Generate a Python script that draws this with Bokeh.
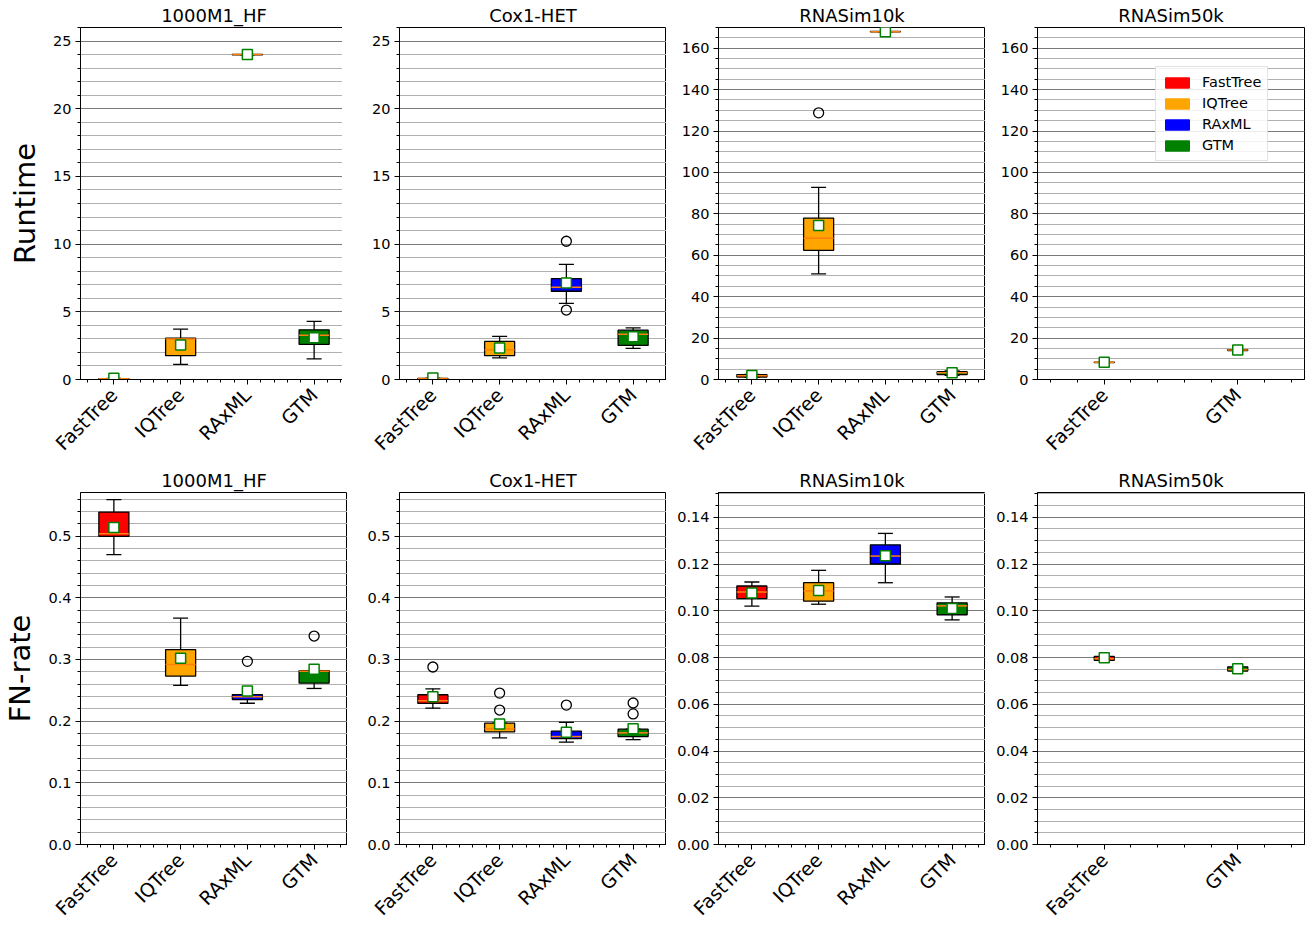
import math
import numpy as np
from bokeh.plotting import figure
from bokeh.layouts import gridplot
from bokeh.models import (ColumnDataSource, FixedTicker, SingleIntervalTicker,
                          PrintfTickFormatter, Legend, LegendItem, Range1d)
from bokeh.embed import file_html
from bokeh.resources import INLINE

# ---------------- data ----------------
methods4 = ["FastTree", "IQTree", "RAxML", "GTM"]
methods2 = ["FastTree", "GTM"]
method_colors = {"FastTree": "#ff0000", "IQTree": "#ffa500", "RAxML": "#0000ff", "GTM": "#008000"}
datasets = ["1000M1_HF", "Cox1-HET", "RNASim10k", "RNASim50k"]

# Runtime: whisker low, q1, median, q3, whisker high, mean, outliers
rt_1000m1_lo = [0.02, 1.12, 24.0, 1.52]
rt_1000m1_q1 = [0.03, 1.76, 23.98, 2.59]
rt_1000m1_med = [0.05, 3.00, 24.0, 3.27]
rt_1000m1_q3 = [0.07, 3.05, 24.02, 3.67]
rt_1000m1_hi = [0.09, 3.72, 24.0, 4.30]
rt_1000m1_mean = [0.10, 2.54, 24.0, 3.08]
rt_1000m1_out_i = []
rt_1000m1_out_v = []

rt_cox1_lo = [0.04, 1.59, 5.62, 2.30]
rt_cox1_q1 = [0.05, 1.76, 6.52, 2.52]
rt_cox1_med = [0.07, 2.20, 6.82, 3.35]
rt_cox1_q3 = [0.09, 2.81, 7.45, 3.64]
rt_cox1_hi = [0.10, 3.18, 8.50, 3.81]
rt_cox1_mean = [0.12, 2.32, 7.13, 3.15]
rt_cox1_out_i = [3, 3]
rt_cox1_out_v = [10.21, 5.13]

rt_rna10k_lo = [1.1, 51.0, 168.0, 2.0]
rt_rna10k_q1 = [1.2, 62.4, 167.9, 2.4]
rt_rna10k_med = [1.8, 68.2, 168.0, 3.2]
rt_rna10k_q3 = [2.4, 77.9, 168.1, 3.8]
rt_rna10k_hi = [2.5, 92.8, 168.0, 4.2]
rt_rna10k_mean = [1.9, 74.4, 168.0, 3.3]
rt_rna10k_out_i = [2]
rt_rna10k_out_v = [128.8]

rt_rna50k_lo = [8.2, 14.0]
rt_rna50k_q1 = [8.2, 14.0]
rt_rna50k_med = [8.3, 14.2]
rt_rna50k_q3 = [8.4, 14.4]
rt_rna50k_hi = [8.4, 14.4]
rt_rna50k_mean = [8.3, 14.2]
rt_rna50k_out_i = []
rt_rna50k_out_v = []

# FN-rate
fn_1000m1_lo = [0.470, 0.258, 0.229, 0.253]
fn_1000m1_q1 = [0.4995, 0.273, 0.235, 0.2615]
fn_1000m1_med = [0.504, 0.292, 0.2395, 0.281]
fn_1000m1_q3 = [0.539, 0.316, 0.243, 0.282]
fn_1000m1_hi = [0.559, 0.367, 0.243, 0.282]
fn_1000m1_mean = [0.514, 0.302, 0.249, 0.284]
fn_1000m1_out_i = [3, 4]
fn_1000m1_out_v = [0.297, 0.338]

fn_cox1_lo = [0.221, 0.173, 0.166, 0.170]
fn_cox1_q1 = [0.2288, 0.1825, 0.1715, 0.175]
fn_cox1_med = [0.233, 0.1875, 0.175, 0.181]
fn_cox1_q3 = [0.2428, 0.1967, 0.1838, 0.187]
fn_cox1_hi = [0.2524, 0.1967, 0.198, 0.187]
fn_cox1_mean = [0.2395, 0.1955, 0.182, 0.1875]
fn_cox1_out_i = [1, 2, 2, 3, 4, 4]
fn_cox1_out_v = [0.2878, 0.2455, 0.218, 0.226, 0.2294, 0.2117]

fn_rna10k_lo = [0.1020, 0.1028, 0.1120, 0.0961]
fn_rna10k_q1 = [0.1052, 0.1041, 0.1200, 0.0983]
fn_rna10k_med = [0.1080, 0.1085, 0.1234, 0.1021]
fn_rna10k_q3 = [0.1106, 0.1120, 0.1282, 0.1034]
fn_rna10k_hi = [0.1123, 0.1173, 0.1331, 0.1059]
fn_rna10k_mean = [0.1076, 0.1087, 0.1235, 0.1010]
fn_rna10k_out_i = []
fn_rna10k_out_v = []

fn_rna50k_lo = [0.0786, 0.0739]
fn_rna50k_q1 = [0.0788, 0.0742]
fn_rna50k_med = [0.0795, 0.0749]
fn_rna50k_q3 = [0.0805, 0.0760]
fn_rna50k_hi = [0.0807, 0.0762]
fn_rna50k_mean = [0.0799, 0.0752]
fn_rna50k_out_i = []
fn_rna50k_out_v = []

# ---------------- layout ----------------
W, H = 267, 352
FONT = "DejaVu Sans"


def make_panel(title, methods, lo, q1, med, q3, hi, mean, out_i, out_v,
               yend, yint, ynminor, yfmt, row, col, ylabel=None, legend=False):
    n = len(methods)
    pos = [float(i + 1) for i in range(n)]
    w = min(max(0.15 * (n - 1), 0.15), 0.5)
    p = figure(x_range=Range1d(0.5, n + 0.5), y_range=Range1d(0, yend),
               frame_width=W, frame_height=H, output_backend="svg",
               toolbar_location=None, title=title,
               min_border_left=71 if col == 0 else 52,
               min_border_right=3 if col == 3 else 0,
               min_border_top=21 if row == 0 else 18,
               min_border_bottom=85 if row == 0 else 70)
    p.title.align = "center"
    p.title.text_font = FONT
    p.title.text_font_size = "18px"
    p.title.text_font_style = "normal"
    p.title.text_color = "black"
    p.title.standoff = 4

    src = ColumnDataSource(dict(
        x=pos, lo=lo, q1=q1, med=med, q3=q3, hi=hi, mean=mean,
        cl=[x - w / 4 for x in pos], cr=[x + w / 4 for x in pos],
        ml=[x - w / 2 for x in pos], mr=[x + w / 2 for x in pos],
        color=[method_colors[m] for m in methods]))

    p.segment(x0="x", y0="lo", x1="x", y1="q1", source=src, line_color="black", line_width=1.3)
    p.segment(x0="x", y0="q3", x1="x", y1="hi", source=src, line_color="black", line_width=1.3)
    p.segment(x0="cl", y0="lo", x1="cr", y1="lo", source=src, line_color="black", line_width=1.3)
    p.segment(x0="cl", y0="hi", x1="cr", y1="hi", source=src, line_color="black", line_width=1.3)
    p.vbar(x="x", bottom="q1", top="q3", width=w, source=src, fill_color="color",
           line_color="black", line_width=1.3)
    p.segment(x0="ml", y0="med", x1="mr", y1="med", source=src, line_color="#ff7f0e", line_width=1.5)
    if out_i:
        p.scatter(x=[float(i) for i in out_i], y=out_v, marker="circle", size=10,
                  fill_color=None, line_color="black", line_width=1.3)
    p.scatter(x="x", y="mean", source=src, marker="square", size=10,
              fill_color="white", line_color="green", line_width=1.5)

    # x axis
    minor = [round(v, 2) for v in np.arange(0.6, n + 0.41, 0.2) if abs(v - round(v)) > 1e-6]
    p.xaxis.ticker = FixedTicker(ticks=pos, minor_ticks=minor)
    p.xaxis.major_label_overrides = {i + 1: m for i, m in enumerate(methods)}
    p.xaxis.major_label_orientation = math.pi / 4
    p.xaxis.major_label_text_font = FONT
    p.xaxis.major_label_text_font_size = "19px"
    p.xaxis.major_label_text_color = "black"
    p.xgrid.visible = False

    # y axis
    p.yaxis.ticker = SingleIntervalTicker(interval=yint, num_minor_ticks=ynminor)
    p.yaxis.formatter = PrintfTickFormatter(format=yfmt)
    p.yaxis.major_label_text_font = FONT
    p.yaxis.major_label_text_font_size = "14.5px"
    p.yaxis.major_label_text_color = "black"
    p.ygrid.grid_line_color = "#7a7a7a"
    p.ygrid.grid_line_width = 1
    p.ygrid.minor_grid_line_color = "#b0b0b0"
    p.ygrid.minor_grid_line_width = 1
    if ylabel:
        p.yaxis.axis_label = ylabel
        p.yaxis.axis_label_text_font = FONT
        p.yaxis.axis_label_text_font_size = "29px"
        p.yaxis.axis_label_text_font_style = "normal"
        p.yaxis.axis_label_text_color = "black"
        p.yaxis.axis_label_standoff = 8

    for ax in (p.xaxis, p.yaxis):
        ax.axis_line_color = "black"
        ax.major_tick_line_color = "black"
        ax.minor_tick_line_color = "black"
        ax.major_tick_out = 5
        ax.major_tick_in = 0
        ax.minor_tick_out = 3
        ax.minor_tick_in = 0
        ax.major_label_standoff = 4
    p.xaxis.major_label_standoff = 7
    p.outline_line_color = "black"
    p.outline_line_width = 1
    p.background_fill_color = "white"

    if legend:
        items = []
        for m in methods4:
            r = p.vbar(x=[-10.0], top=[1.0], bottom=[0.0], width=0.1,
                       fill_color=method_colors[m], line_color=method_colors[m])
            items.append(LegendItem(label=m, renderers=[r]))
        leg = Legend(items=items, location=(118, H - 41 - 93))
        leg.glyph_width = 30
        leg.glyph_height = 13
        leg.label_height = 18
        leg.spacing = 3
        leg.padding = 6
        leg.margin = 0
        leg.label_standoff = 10
        leg.label_text_font = FONT
        leg.label_text_font_size = "14.5px"
        leg.label_text_color = "black"
        leg.border_line_color = "#c8c8c8"
        leg.border_line_width = 1
        leg.background_fill_color = "white"
        leg.background_fill_alpha = 0.85
        p.add_layout(leg, "center")
    return p


top = [
    make_panel(datasets[0], methods4, rt_1000m1_lo, rt_1000m1_q1, rt_1000m1_med, rt_1000m1_q3,
               rt_1000m1_hi, rt_1000m1_mean, rt_1000m1_out_i, rt_1000m1_out_v,
               26, 5, 5, "%d", 0, 0, ylabel="Runtime"),
    make_panel(datasets[1], methods4, rt_cox1_lo, rt_cox1_q1, rt_cox1_med, rt_cox1_q3,
               rt_cox1_hi, rt_cox1_mean, rt_cox1_out_i, rt_cox1_out_v,
               26, 5, 5, "%d", 0, 1),
    make_panel(datasets[2], methods4, rt_rna10k_lo, rt_rna10k_q1, rt_rna10k_med, rt_rna10k_q3,
               rt_rna10k_hi, rt_rna10k_mean, rt_rna10k_out_i, rt_rna10k_out_v,
               170, 20, 4, "%d", 0, 2),
    make_panel(datasets[3], methods2, rt_rna50k_lo, rt_rna50k_q1, rt_rna50k_med, rt_rna50k_q3,
               rt_rna50k_hi, rt_rna50k_mean, rt_rna50k_out_i, rt_rna50k_out_v,
               170, 20, 4, "%d", 0, 3, legend=True),
]
bottom = [
    make_panel(datasets[0], methods4, fn_1000m1_lo, fn_1000m1_q1, fn_1000m1_med, fn_1000m1_q3,
               fn_1000m1_hi, fn_1000m1_mean, fn_1000m1_out_i, fn_1000m1_out_v,
               0.5707, 0.1, 5, "%.1f", 1, 0, ylabel="FN-rate"),
    make_panel(datasets[1], methods4, fn_cox1_lo, fn_cox1_q1, fn_cox1_med, fn_cox1_q3,
               fn_cox1_hi, fn_cox1_mean, fn_cox1_out_i, fn_cox1_out_v,
               0.5707, 0.1, 5, "%.1f", 1, 1),
    make_panel(datasets[2], methods4, fn_rna10k_lo, fn_rna10k_q1, fn_rna10k_med, fn_rna10k_q3,
               fn_rna10k_hi, fn_rna10k_mean, fn_rna10k_out_i, fn_rna10k_out_v,
               0.1506, 0.02, 4, "%.2f", 1, 2),
    make_panel(datasets[3], methods2, fn_rna50k_lo, fn_rna50k_q1, fn_rna50k_med, fn_rna50k_q3,
               fn_rna50k_hi, fn_rna50k_mean, fn_rna50k_out_i, fn_rna50k_out_v,
               0.1506, 0.02, 4, "%.2f", 1, 3),
]

grid = gridplot([top, bottom], toolbar_location=None)
open("out.html", "w").write(file_html(grid, INLINE))
